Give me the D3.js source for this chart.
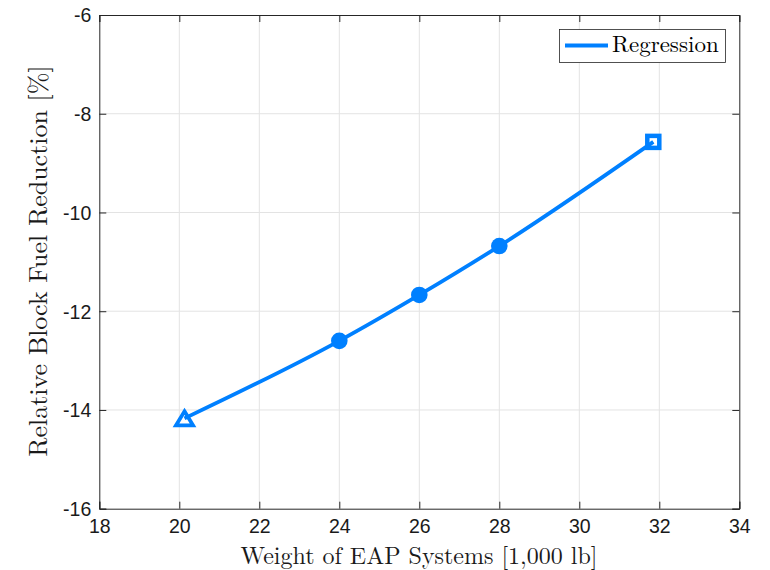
<!DOCTYPE html>
<html><head><meta charset="utf-8">
<script src="https://cdn.jsdelivr.net/npm/d3@7"></script>
<style>body{margin:0;background:#fff}svg{display:block}</style>
</head><body>
<svg id="c" width="770" height="570"></svg>
<script>
const xTicks = [18,20,22,24,26,28,30,32,34];
const yTicks = [-16,-14,-12,-10,-8,-6];
const weights = [20.13, 24, 26, 28, 31.85];
const fuelReduction = [-14.17, -12.60, -11.67, -10.68, -8.57];
const markers = ["triangle","circle","circle","circle","square"];
const seriesName = "Regression";

const svg = d3.select("#c");
const L=99.3, R=739.3, T=15, B=508.7;
const x = d3.scaleLinear().domain([18,34]).range([L,R]);
const y = d3.scaleLinear().domain([-16,-6]).range([B,T]);
const blue = "#0080ff", axc = "#262626";
const lw = 3.8;

// grid
svg.append("g").selectAll("line").data(xTicks.slice(1,-1)).join("line")
  .attr("x1",d=>x(d)).attr("x2",d=>x(d)).attr("y1",T).attr("y2",B)
  .attr("stroke","#e3e3e3").attr("stroke-width",1);
svg.append("g").selectAll("line").data(yTicks.slice(1,-1)).join("line")
  .attr("y1",d=>y(d)).attr("y2",d=>y(d)).attr("x1",L).attr("x2",R)
  .attr("stroke","#e3e3e3").attr("stroke-width",1);

// axes
const fontTick = "'Liberation Sans', Arial, sans-serif";
const xa = svg.append("g").attr("transform",`translate(0,${B})`)
  .call(d3.axisBottom(x).tickValues(xTicks).tickSize(-7).tickPadding(10.5).tickFormat(d3.format("d")));
const ya = svg.append("g").attr("transform",`translate(${L},0)`)
  .call(d3.axisLeft(y).tickValues(yTicks).tickSize(-7).tickPadding(8).tickFormat(d=>String(d).replace("−","-")));
const xt = svg.append("g").attr("transform",`translate(0,${T})`)
  .call(d3.axisTop(x).tickValues(xTicks).tickSize(-7).tickFormat(""));
const yr = svg.append("g").attr("transform",`translate(${R},0)`)
  .call(d3.axisRight(y).tickValues(yTicks).tickSize(-7).tickFormat(""));
[xa,ya,xt,yr].forEach(g=>{
  g.select(".domain").attr("stroke",axc).attr("stroke-width",1);
  g.selectAll(".tick line").attr("stroke",axc).attr("stroke-width",1);
  g.selectAll("text").attr("fill","#1a1a1a").style("font-family",fontTick).style("font-size","19.5px");
});
ya.selectAll("text").attr("dy","0.35em");

// line
const pts = weights.map((w,i)=>[w,fuelReduction[i]]);
svg.append("path").datum(pts)
  .attr("d",d3.line().x(d=>x(d[0])).y(d=>y(d[1])).curve(d3.curveMonotoneX))
  .attr("fill","none").attr("stroke",blue).attr("stroke-width",lw);

// markers
const mg = svg.append("g");
pts.forEach((p,i)=>{
  const cx=x(p[0]), cy=y(p[1]);
  if(markers[i]==="circle"){
    mg.append("circle").attr("cx",cx).attr("cy",cy).attr("r",8.3).attr("fill",blue);
  } else if(markers[i]==="square"){
    mg.append("rect").attr("x",cx-6).attr("y",cy-6).attr("width",12).attr("height",12)
      .attr("fill","none").attr("stroke",blue).attr("stroke-width",4.5);
  } else {
    mg.append("path").attr("d",`M${cx},${cy-7} L${cx+8.5},${cy+7} L${cx-8.5},${cy+7} Z`)
      .attr("fill","none").attr("stroke",blue).attr("stroke-width",3.8).attr("stroke-linejoin","miter");
  }
});

// legend
const serif = "'Latin Modern Roman','CMU Serif','Liberation Serif','DejaVu Serif',serif";
svg.append("rect").attr("x",559.5).attr("y",29.5).attr("width",166).attr("height",33)
  .attr("fill","#fff").attr("stroke","#262626").attr("stroke-width",0.8);
svg.append("line").attr("x1",565).attr("x2",608).attr("y1",45.5).attr("y2",45.5)
  .attr("stroke",blue).attr("stroke-width",lw);
svg.append("text").attr("x",612).attr("y",52).text(seriesName)
  .style("font-family",serif).style("font-size","23px").attr("fill","#000");

// axis labels
svg.append("text").attr("x",419).attr("y",563.5).attr("text-anchor","middle")
  .text("Weight of EAP Systems [1,000 lb]").style("font-family",serif).style("font-size","24px").attr("fill","#1a1a1a");
svg.append("text").attr("transform",`translate(47,${261}) rotate(-90)`).attr("text-anchor","middle")
  .text("Relative Block Fuel Reduction [%]").style("font-family",serif).style("font-size","26px").attr("fill","#1a1a1a");
</script>
</body></html>
